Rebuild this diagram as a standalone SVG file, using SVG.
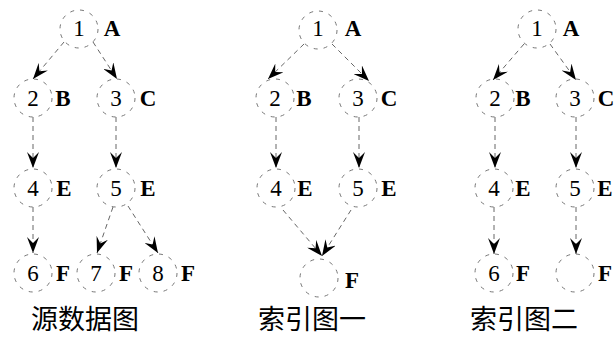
<svg xmlns="http://www.w3.org/2000/svg" width="615" height="340" viewBox="0 0 615 340">
<defs>
<marker id="ah" markerUnits="userSpaceOnUse" markerWidth="17" markerHeight="12" viewBox="-16 -6 17 12" refX="0" refY="0" orient="auto">
<path d="M0,0 L-16,-6 L-10,0 L-16,6 Z" fill="#000"/>
</marker>
</defs>
<style>
.c{fill:none;stroke:#777;stroke-width:1;stroke-dasharray:4 6}
.e{fill:none;stroke:#666;stroke-width:1;stroke-dasharray:5 4;marker-end:url(#ah)}
.n{font-family:"Liberation Serif",serif;font-size:23px;fill:#000;text-anchor:middle}
.l{font-family:"Liberation Serif",serif;font-size:23px;font-weight:bold;fill:#000;text-anchor:middle}
.cap{font-family:"Noto Sans CJK SC",sans-serif;font-size:27px;fill:#000;text-anchor:middle}
</style>
<rect width="615" height="340" fill="#fff"/>
<g id="connectors">
<line class="e" x1="64" y1="42" x2="33" y2="79"/>
<line class="e" x1="93" y1="42" x2="117" y2="79"/>
<line class="e" x1="33" y1="117" x2="33" y2="168"/>
<line class="e" x1="116" y1="117" x2="116" y2="168"/>
<line class="e" x1="33" y1="207" x2="33" y2="253"/>
<line class="e" x1="113" y1="207" x2="97" y2="253"/>
<line class="e" x1="128" y1="206" x2="158" y2="253"/>
<line class="e" x1="304" y1="44" x2="268" y2="79"/>
<line class="e" x1="332" y1="44" x2="369" y2="81"/>
<line class="e" x1="276" y1="117" x2="276" y2="168"/>
<line class="e" x1="359" y1="117" x2="359" y2="168"/>
<line class="e" x1="283" y1="210" x2="322" y2="256"/>
<line class="e" x1="351" y1="210" x2="322" y2="256"/>
<line class="e" x1="524" y1="44" x2="493" y2="80"/>
<line class="e" x1="550" y1="44" x2="576" y2="80"/>
<line class="e" x1="495" y1="117" x2="495" y2="168"/>
<line class="e" x1="576" y1="117" x2="576" y2="168"/>
<line class="e" x1="494" y1="207" x2="494" y2="254"/>
<line class="e" x1="576" y1="207" x2="576" y2="254"/>
</g>
<g id="p1-n1"><circle class="c" cx="79" cy="29" r="19"/><text class="n" x="79" y="36">1</text><text class="l" x="112" y="36" font-weight="normal">A</text></g>
<g id="p1-n2"><circle class="c" cx="33" cy="98" r="19"/><text class="n" x="33" y="106">2</text><text class="l" x="63" y="106">B</text></g>
<g id="p1-n3"><circle class="c" cx="116" cy="98" r="19"/><text class="n" x="116" y="106">3</text><text class="l" x="148" y="106">C</text></g>
<g id="p1-n4"><circle class="c" cx="33" cy="188" r="19"/><text class="n" x="33" y="196">4</text><text class="l" x="64" y="196">E</text></g>
<g id="p1-n5"><circle class="c" cx="116" cy="188" r="19"/><text class="n" x="116" y="196">5</text><text class="l" x="148" y="196">E</text></g>
<g id="p1-n6"><circle class="c" cx="33" cy="273" r="19"/><text class="n" x="33" y="281">6</text><text class="l" x="63" y="281">F</text></g>
<g id="p1-n7"><circle class="c" cx="96" cy="273" r="19"/><text class="n" x="96" y="281">7</text><text class="l" x="126" y="281">F</text></g>
<g id="p1-n8"><circle class="c" cx="158" cy="273" r="19"/><text class="n" x="158" y="281">8</text><text class="l" x="188" y="281">F</text></g>
<g id="p2-n1"><circle class="c" cx="318" cy="30" r="19"/><text class="n" x="318" y="36">1</text><text class="l" x="353" y="36" font-weight="normal">A</text></g>
<g id="p2-n2"><circle class="c" cx="275" cy="98" r="19"/><text class="n" x="275" y="106">2</text><text class="l" x="304" y="106">B</text></g>
<g id="p2-n3"><circle class="c" cx="358" cy="98" r="19"/><text class="n" x="358" y="106">3</text><text class="l" x="389" y="106">C</text></g>
<g id="p2-n4"><circle class="c" cx="276" cy="188" r="19"/><text class="n" x="276" y="196">4</text><text class="l" x="305" y="196">E</text></g>
<g id="p2-n5"><circle class="c" cx="358" cy="188" r="19"/><text class="n" x="358" y="196">5</text><text class="l" x="389" y="196">E</text></g>
<g id="p2-nF"><circle class="c" cx="319" cy="278" r="19"/><text class="l" x="352" y="288">F</text></g>
<g id="p3-n1"><circle class="c" cx="537" cy="29" r="19"/><text class="n" x="537" y="36">1</text><text class="l" x="571" y="36" font-weight="normal">A</text></g>
<g id="p3-n2"><circle class="c" cx="495" cy="98" r="19"/><text class="n" x="495" y="106">2</text><text class="l" x="523" y="106">B</text></g>
<g id="p3-n3"><circle class="c" cx="575" cy="98" r="19"/><text class="n" x="575" y="106">3</text><text class="l" x="606" y="106">C</text></g>
<g id="p3-n4"><circle class="c" cx="494" cy="188" r="19"/><text class="n" x="494" y="196">4</text><text class="l" x="523" y="196">E</text></g>
<g id="p3-n5"><circle class="c" cx="575" cy="188" r="19"/><text class="n" x="575" y="196">5</text><text class="l" x="605" y="196">E</text></g>
<g id="p3-n6"><circle class="c" cx="494" cy="273" r="19"/><text class="n" x="494" y="281">6</text><text class="l" x="523" y="281">F</text></g>
<g id="p3-nF"><circle class="c" cx="575" cy="273" r="19"/><text class="l" x="605" y="281">F</text></g>
<g id="captions">
<text class="cap" x="85" y="329">源数据图</text>
<text class="cap" x="312" y="329">索引图一</text>
<text class="cap" x="524" y="329">索引图二</text>
</g>
</svg>
